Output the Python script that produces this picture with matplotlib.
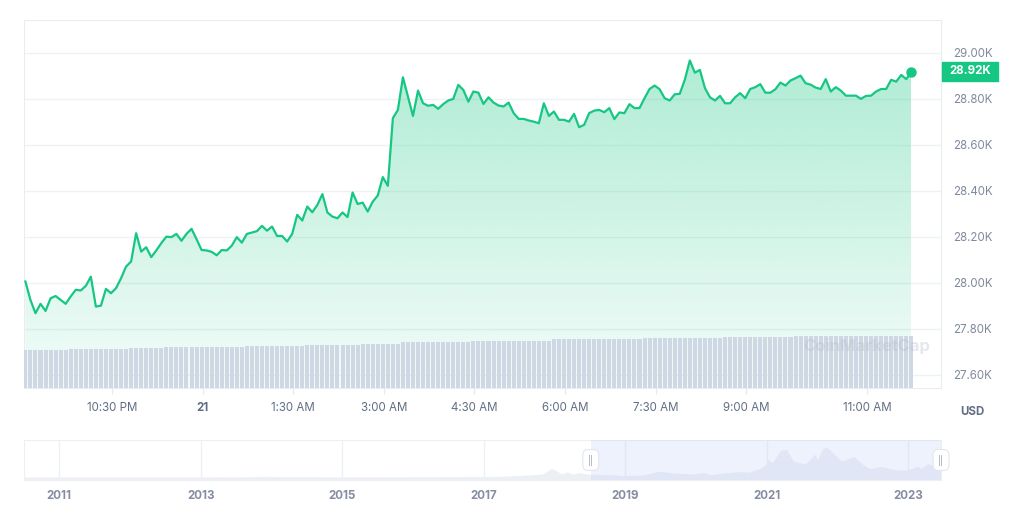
import numpy as np
import pandas as pd
import matplotlib
matplotlib.use("Agg")
import matplotlib.pyplot as plt
import matplotlib.dates as mdates
import matplotlib.transforms as mtransforms
from matplotlib.colors import LinearSegmentedColormap
from matplotlib.patches import Rectangle

plt.rcParams['font.family'] = ['Inter', 'DejaVu Sans']

# BTC price, 5 min steps, from 20 Jun 21:04
start = "2023-06-20 21:04"
prices = [
    28006, 27926, 27868, 27909, 27878, 27933, 27943, 27926, 27909, 27941,
    27970, 27967, 27987, 28027, 27897, 27901, 27974, 27955, 27977, 28020,
    28071, 28093, 28216, 28136, 28155, 28112, 28141, 28173, 28201, 28199,
    28213, 28183, 28213, 28235, 28190, 28143, 28141, 28135, 28120, 28143,
    28141, 28162, 28199, 28175, 28213, 28219,
    28225, 28248, 28227, 28245, 28204, 28204, 28180, 28213, 28296, 28271,
    28332, 28307, 28339, 28386, 28306, 28288, 28281, 28306, 28286, 28393,
    28343, 28349, 28310, 28353, 28380, 28460, 28422, 28716, 28752, 28894,
    28810, 28726, 28836, 28781, 28770, 28774, 28757, 28777, 28793, 28800,
    28861, 28839, 28788, 28832,
    28827, 28778, 28807, 28784, 28771, 28767, 28784, 28738, 28713, 28713,
    28706, 28701, 28694, 28781, 28726, 28745, 28709, 28709, 28701, 28735,
    28677, 28687, 28738, 28749, 28752, 28742, 28760, 28712, 28741, 28738,
    28777, 28760, 28760, 28803, 28843, 28858, 28842, 28803, 28793, 28820,
    28822, 28883, 28967,
    28914, 28926, 28847, 28807, 28793, 28813, 28781, 28781, 28807, 28825,
    28803, 28843, 28851, 28864, 28827, 28827, 28842, 28871, 28858, 28880,
    28890, 28901, 28868, 28862, 28849, 28843, 28886, 28832, 28851, 28836,
    28814, 28814, 28814, 28800, 28813, 28814, 28832, 28843, 28843, 28883,
    28875, 28904, 28886, 28916,
]
# 24h volume (B USD)
volume = [
    13.3, 13.3, 13.3, 13.3, 13.3, 13.3, 13.3, 13.3, 13.3,
    13.65, 13.65, 13.65, 13.65, 13.65, 13.65, 13.65, 13.65, 13.65, 13.65, 13.65, 13.65,
    14.0, 14.0, 14.0, 14.0, 14.0, 14.0, 14.0,
    14.35, 14.35, 14.35, 14.35, 14.35, 14.35, 14.35, 14.35, 14.35, 14.35, 14.35, 14.35,
    14.35, 14.35, 14.35, 14.35,
    14.7, 14.7, 14.7, 14.7, 14.7, 14.7, 14.7, 14.7, 14.7, 14.7, 14.7, 14.7,
    15.05, 15.05, 15.05, 15.05, 15.05, 15.05, 15.05, 15.05, 15.05, 15.05, 15.05,
    15.4, 15.4, 15.4, 15.4, 15.4, 15.4, 15.4, 15.4,
    16.1, 16.1, 16.1, 16.1, 16.1, 16.1, 16.1, 16.1, 16.1, 16.1, 16.1, 16.1, 16.1, 16.1,
    16.45, 16.45, 16.45, 16.45, 16.45, 16.45, 16.45, 16.45, 16.45, 16.45, 16.45, 16.45,
    16.45, 16.45, 16.45, 16.45,
    17.15, 17.15, 17.15, 17.15, 17.15, 17.15, 17.15, 17.15, 17.15, 17.15, 17.15, 17.15,
    17.15, 17.15, 17.15, 17.15, 17.15, 17.15,
    17.5, 17.5, 17.5, 17.5, 17.5, 17.5, 17.5, 17.5, 17.5, 17.5, 17.5, 17.5,
    17.5, 17.5, 17.5, 17.5,
    17.85, 17.85, 17.85, 17.85, 17.85, 17.85, 17.85, 17.85, 17.85, 17.85, 17.85, 17.85,
    17.85, 17.85,
    18.2, 18.2, 18.2, 18.2, 18.2, 18.2, 18.2, 18.2, 18.2, 18.2, 18.2, 18.2,
    18.2, 18.2, 18.2, 18.2, 18.2, 18.2, 18.2, 18.2, 18.2, 18.2, 18.2, 18.2,
]

tick_times = ["2023-06-20 22:30", "2023-06-21 00:00", "2023-06-21 01:30",
              "2023-06-21 03:00", "2023-06-21 04:30", "2023-06-21 06:00",
              "2023-06-21 07:30", "2023-06-21 09:00", "2023-06-21 11:00"]
tick_labels = ["10:30 PM", "21", "1:30 AM", "3:00 AM", "4:30 AM",
               "6:00 AM", "7:30 AM", "9:00 AM", "11:00 AM"]
price_ticks = [27600, 27800, 28000, 28200, 28400, 28600, 28800, 29000]
last_label = "28.92K"

# long history for the navigator
hist_dates = [
    "2010-07-03", "2011-02-01", "2011-06-08", "2011-12-01", "2012-08-15",
    "2013-01-01", "2013-04-09", "2013-07-01", "2013-12-04", "2014-04-01",
    "2014-07-01", "2015-01-14", "2015-07-01", "2015-11-04", "2016-06-17",
    "2016-12-31", "2017-03-01", "2017-06-12", "2017-09-01", "2017-11-01",
    "2017-12-17", "2018-01-15", "2018-02-06", "2018-03-05", "2018-04-06",
    "2018-05-05", "2018-07-01", "2018-11-20", "2018-12-15", "2019-04-01",
    "2019-06-26", "2019-09-01", "2019-12-17", "2020-02-13", "2020-03-13",
    "2020-06-01", "2020-08-17", "2020-10-01", "2020-11-30", "2020-12-31",
    "2021-01-08", "2021-02-01", "2021-03-13", "2021-04-14", "2021-05-19",
    "2021-06-22", "2021-07-20", "2021-09-06", "2021-09-21", "2021-10-20",
    "2021-11-09", "2021-12-31", "2022-01-24", "2022-03-28", "2022-05-12",
    "2022-06-18", "2022-08-13", "2022-09-30", "2022-11-09", "2022-12-31",
    "2023-02-20", "2023-03-10", "2023-04-14", "2023-05-12", "2023-06-15",
    "2023-06-21",
]
hist_prices = [
    0.05, 1, 30, 3, 12,
    13, 230, 90, 1150, 450,
    640, 180, 260, 400, 750,
    960, 1200, 2900, 4800, 6700,
    19500, 13500, 7000, 11500, 6600,
    9800, 6300, 4500, 3200, 4100,
    13000, 9600, 6600, 10300, 4900,
    9500, 12300, 10600, 19700, 29000,
    41000, 33500, 61000, 63500, 37000,
    32500, 29800, 52000, 41000, 66000,
    68000, 46300, 36000, 47100, 29000,
    19000, 24400, 19400, 16000, 16500,
    24500, 20000, 30400, 26300, 25100,
    28900,
]
year_ticks = ["2011", "2013", "2015", "2017", "2019", "2021", "2023"]
sel_start = "2018-07-08"

green = "#16c784"
times = pd.date_range(start, periods=len(prices), freq="5min")

fig = plt.figure(figsize=(10.24, 5.22), dpi=100)
W, H = 1024, 522
ax = fig.add_axes([24 / W, 1 - 388 / H, 917 / W, 368 / H])

y0, y1 = 27543, 29143
x0 = pd.Timestamp("2023-06-20 21:02:36")
x1 = pd.Timestamp("2023-06-21 12:13:30")

# gradient under the line
cmap = LinearSegmentedColormap.from_list(
    "g", [(22 / 255, 199 / 255, 132 / 255, 0.05), (22 / 255, 199 / 255, 132 / 255, 0.34)])
poly = ax.fill_between(times, prices, y0, color="none", lw=0)
grad = np.linspace(0, 1, 256).reshape(-1, 1)
im = ax.imshow(grad, cmap=cmap, aspect="auto", origin="lower",
               extent=[mdates.date2num(times[0]), mdates.date2num(times[-1]), y0, max(prices)],
               zorder=1)
im.set_clip_path(poly.get_paths()[0], transform=ax.transData)

ax.plot(times, prices, color=green, lw=1.6, zorder=3, solid_joinstyle="round")
ax.plot(times[-1], prices[-1], "o", color=green, ms=6.5, zorder=4)

# volume bars
axv = ax.twinx()
axv.bar(times, volume, width=4 / 1440, color="#cfd6e4", lw=0, zorder=2)
axv.set_ylim(0, 129)
axv.set_yticks([])
axv.set_xlim(x0, x1)
for s in axv.spines.values():
    s.set_visible(False)

ax.set_xlim(x0, x1)
ax.set_ylim(y0, y1)
ax.set_yticks(price_ticks)
ax.set_yticklabels([f"{p / 1000:.2f}K" for p in price_ticks])
ax.yaxis.tick_right()
ax.tick_params(axis="y", length=0, pad=9, labelsize=8.3, labelcolor="#808a9d")
ax.grid(axis="y", color="#eff2f5", lw=1)
ax.set_axisbelow(True)
ax.set_xticks(pd.to_datetime(tick_times))
ax.set_xticklabels(tick_labels)
ax.tick_params(axis="x", length=4, color="#e6e9ee", pad=6, labelsize=8.3,
               labelcolor="#616e85")
ax.get_xticklabels()[1].set_fontweight("bold")
for s in ax.spines.values():
    s.set_color("#e9edf2")

# last price label
tr = mtransforms.blended_transform_factory(ax.transAxes, ax.transData)
ax.add_patch(Rectangle((1.0015, 28920 - 41), 0.0605, 82, transform=tr,
                       color=green, clip_on=False, zorder=5))
ax.text(1.032, 28920, last_label, transform=tr, ha="center", va="center",
        color="white", fontsize=8.3, fontweight="bold", zorder=6)

fig.text(972 / W, 1 - 412 / H, "USD", ha="center", va="center",
         fontsize=8.3, fontweight="bold", color="#616e85")
fig.text(930 / W, 1 - 346 / H, "CoinMarketCap", ha="right", va="center",
         fontsize=12, fontweight="bold", color="#b4bccb", alpha=0.35, zorder=10)

# navigator
axn = fig.add_axes([24 / W, 1 - 480 / H, 917 / W, 40 / H])
hd = pd.to_datetime(hist_dates)
axn.fill_between(hd, hist_prices, -7000, color="#eceff3", lw=0, zorder=2)
sel = pd.Timestamp(sel_start)
axn.axvspan(sel, hd[-1], color="#c6d4fb", alpha=0.3, lw=0, zorder=3)
axn.set_xlim(hd[0], hd[-1])
axn.set_ylim(-7000, 85000)
axn.set_yticks([])
axn.set_xticks(pd.to_datetime([y + "-01-01" for y in year_ticks]))
axn.set_xticklabels(year_ticks)
axn.tick_params(axis="x", length=0, pad=7, labelsize=8.3, labelcolor="#858ca2")
for t in axn.get_xticklabels():
    t.set_fontweight("bold")
axn.grid(axis="x", color="#eef0f3", lw=1, zorder=1)
axn.set_axisbelow(True)
for s in axn.spines.values():
    s.set_color("#eceff3")
for hx in [sel, hd[-1]]:
    axn.annotate("||", xy=(hx, 0.5), xycoords=("data", "axes fraction"),
                 ha="center", va="center", fontsize=6.5, color="#a0a8b8",
                 annotation_clip=False, zorder=6,
                 bbox=dict(boxstyle="round,pad=0.55,rounding_size=0.6",
                           fc="white", ec="#e3e6ec", lw=0.8))

fig.savefig("out.png", dpi=100, facecolor="white")
